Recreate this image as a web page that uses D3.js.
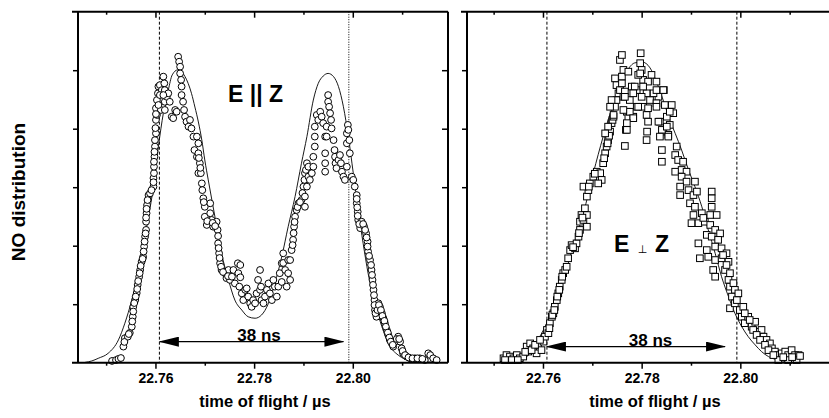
<!DOCTYPE html>
<html>
<head>
<meta charset="utf-8">
<script src="https://cdnjs.cloudflare.com/ajax/libs/d3/7.8.5/d3.min.js"></script>
<style>
  body { margin: 0; background: #fff; }
  svg { display: block; font-family: "Liberation Sans", Arial, sans-serif; }
  .tick text { font-size: 14px; font-weight: bold; fill: #000; }
</style>
</head>
<body>
<div id="chart"></div>
<script>
// time of flight (µs) vs NO signal (arb. units)
const leftPoints = [
  [22.7512,0.006],[22.7520,0.009],[22.7525,0.013],[22.7530,0.016],[22.7535,0.055],[22.7538,0.084],[22.7544,0.089],[22.7548,0.102],
  [22.7552,0.123],[22.7554,0.157],[22.7555,0.191],[22.7559,0.214],[22.7562,0.238],[22.7564,0.266],[22.7567,0.294],[22.7569,0.317],
  [22.7572,0.345],[22.7575,0.362],[22.7577,0.397],[22.7579,0.431],[22.7581,0.454],[22.7581,0.482],[22.7582,0.511],[22.7583,0.539],
  [22.7586,0.573],[22.7589,0.579],[22.7596,0.602],[22.7596,0.631],[22.7597,0.648],[22.7597,0.670],[22.7598,0.704],[22.7599,0.739],
  [22.7599,0.761],[22.7601,0.784],[22.7601,0.830],[22.7601,0.870],[22.7603,0.898],[22.7605,0.921],[22.7606,0.944],[22.7609,0.949],
  [22.7613,0.932],[22.7616,0.978],[22.7618,0.955],[22.7619,0.932],[22.7614,0.881],[22.7611,0.864],[22.7619,0.892],[22.7623,0.909],
  [22.7626,0.921],[22.7629,0.892],[22.7633,0.841],[22.7636,0.836],[22.7640,0.864],[22.7643,0.858],[22.7603,0.847],[22.7606,0.881],
  [22.7609,0.915],[22.7616,0.915],[22.7619,0.864],
  [22.7537,0.071],[22.7546,0.098],[22.7553,0.141],[22.7555,0.175],[22.7557,0.204],[22.7560,0.226],[22.7563,0.252],[22.7565,0.279],
  [22.7568,0.306],[22.7570,0.331],[22.7574,0.355],[22.7576,0.380],[22.7578,0.414],[22.7580,0.442],[22.7581,0.496],[22.7582,0.526],
  [22.7584,0.556],[22.7592,0.590],[22.7596,0.617],[22.7597,0.687],[22.7598,0.721],[22.7600,0.802],[22.7601,0.850],
  [22.7646,1.046],[22.7648,1.029],[22.7650,1.012],[22.7650,0.989],[22.7652,0.967],[22.7653,0.944],[22.7653,0.915],[22.7656,0.892],
  [22.7658,0.864],[22.7660,0.841],[22.7663,0.824],[22.7667,0.807],[22.7670,0.830],[22.7673,0.801],[22.7677,0.773],[22.7679,0.727],
  [22.7684,0.704],[22.7687,0.648],
  [22.7684,0.773],[22.7687,0.750],[22.7687,0.716],[22.7690,0.682],[22.7692,0.648],[22.7694,0.613],[22.7697,0.562],[22.7700,0.533],
  [22.7700,0.499],[22.7704,0.471],[22.7711,0.511],[22.7711,0.545],[22.7714,0.488],[22.7717,0.465],[22.7724,0.482],[22.7726,0.454],
  [22.7727,0.408],[22.7729,0.374],[22.7731,0.340],[22.7734,0.317],[22.7741,0.306],[22.7744,0.289],[22.7748,0.317],[22.7751,0.283],
  [22.7688,0.700],[22.7691,0.666],[22.7695,0.590],[22.7698,0.549],[22.7705,0.484],[22.7716,0.478],[22.7721,0.467],[22.7727,0.433],
  [22.7728,0.392],[22.7730,0.358],[22.7733,0.328],[22.7737,0.310],[22.7747,0.296],
  [22.7755,0.294],[22.7758,0.317],[22.7761,0.271],[22.7767,0.340],[22.7768,0.306],[22.7770,0.260],[22.7772,0.334],[22.7772,0.292],
  [22.7775,0.237],[22.7778,0.214],[22.7782,0.249],[22.7785,0.254],[22.7788,0.226],[22.7792,0.203],[22.7795,0.191],[22.7798,0.214],
  [22.7802,0.203],[22.7805,0.237],[22.7808,0.283],[22.7812,0.317],[22.7812,0.249],[22.7814,0.260],[22.7815,0.214],[22.7819,0.203],
  [22.7822,0.226],[22.7826,0.249],[22.7829,0.271],[22.7832,0.237],[22.7836,0.214],[22.7839,0.283],[22.7842,0.260],[22.7846,0.226],
  [22.7849,0.260],[22.7852,0.306],[22.7856,0.340],[22.7856,0.276],[22.7859,0.374],[22.7859,0.341],[22.7863,0.317],[22.7866,0.260],
  [22.7869,0.306],[22.7869,0.351],[22.7873,0.351],[22.7873,0.283],[22.7876,0.385],[22.7879,0.420],[22.7881,0.465],[22.7883,0.499],
  [22.7886,0.522],[22.7890,0.545],[22.7896,0.556],[22.7900,0.602],[22.7903,0.648],[22.7907,0.682],
  [22.7878,0.402],[22.7880,0.443],[22.7882,0.481],[22.7888,0.532],[22.7893,0.549],[22.7898,0.580],[22.7902,0.625],[22.7905,0.659],
  [22.7903,0.533],[22.7903,0.568],[22.7907,0.602],[22.7910,0.636],[22.7910,0.670],[22.7913,0.625],[22.7917,0.648],[22.7920,0.670],
  [22.7920,0.704],[22.7923,0.739],[22.7923,0.773],[22.7923,0.807],[22.7927,0.847],[22.7930,0.830],[22.7934,0.858],[22.7937,0.841],
  [22.7940,0.819],[22.7944,0.773],[22.7944,0.716],[22.7944,0.682],[22.7944,0.653],[22.7947,0.773],[22.7947,0.807],[22.7950,0.915],
  [22.7950,0.892],[22.7952,0.875],[22.7954,0.853],[22.7956,0.830],[22.7957,0.801],[22.7961,0.761],[22.7963,0.727],[22.7964,0.704],
  [22.7965,0.682],[22.7967,0.665],[22.7971,0.693],[22.7974,0.710],[22.7976,0.682],[22.7978,0.653],[22.7981,0.636],[22.7984,0.625],
  [22.7988,0.670],[22.7988,0.750],[22.7988,0.784],[22.7990,0.813],[22.7991,0.796],[22.7993,0.761],[22.7994,0.716],[22.7998,0.636],
  [22.8001,0.625],[22.8004,0.602],[22.8008,0.573],[22.8008,0.545],[22.8010,0.516],[22.8011,0.488],[22.8015,0.460],[22.8018,0.482],
  [22.8023,0.465],[22.8027,0.442],[22.8030,0.414],[22.8031,0.380],[22.8035,0.351],[22.8038,0.317],[22.8040,0.283],[22.8042,0.249],
  [22.8044,0.214],[22.8045,0.180],[22.8048,0.157],[22.8052,0.203],[22.8055,0.191],[22.8059,0.169],[22.8062,0.152],[22.8065,0.135],
  [22.8069,0.112],[22.8072,0.095],[22.8075,0.078],[22.8079,0.066],[22.8082,0.055],[22.8086,0.072],[22.8092,0.089],[22.8096,0.072],
  [22.8099,0.049],[22.8102,0.032],[22.8109,0.021],[22.8116,0.015],[22.8126,0.015],[22.8136,0.015],[22.8146,0.009],[22.8153,0.032],
  [22.8157,0.026],[22.8163,0.015],[22.8170,0.009],
  [22.8008,0.560],[22.8009,0.531],[22.8010,0.502],[22.8013,0.474],[22.8021,0.474],[22.8025,0.454],[22.8028,0.428],[22.8030,0.397],
  [22.8033,0.365],[22.8037,0.334],[22.8039,0.300],[22.8041,0.266],[22.8043,0.231],[22.8044,0.197],[22.8046,0.169],[22.8050,0.180],
  [22.8053,0.197],[22.8057,0.180],[22.8060,0.160],[22.8064,0.143],[22.8067,0.123],[22.8071,0.103],[22.8074,0.086],[22.8077,0.072],
  [22.8081,0.061],[22.8089,0.081],[22.8094,0.081],[22.8101,0.040],[22.8106,0.026],[22.8113,0.018],[22.8121,0.015],[22.8131,0.015],
  [22.8141,0.013]
];

const leftFit = [
  [22.7457,0.001],[22.7471,0.006],[22.7484,0.015],[22.7504,0.032],[22.7525,0.078],[22.7538,0.135],[22.7552,0.214],[22.7565,0.306],
  [22.7575,0.397],[22.7586,0.499],[22.7596,0.602],[22.7606,0.739],[22.7616,0.853],[22.7626,0.932],[22.7634,0.984],[22.7645,1.001],
  [22.7660,0.978],[22.7673,0.921],[22.7680,0.874],[22.7687,0.823],[22.7694,0.761],[22.7700,0.693],[22.7707,0.625],[22.7721,0.495],
  [22.7734,0.374],[22.7748,0.283],[22.7761,0.214],[22.7775,0.180],[22.7788,0.157],[22.7802,0.152],[22.7815,0.163],[22.7829,0.203],
  [22.7842,0.271],[22.7856,0.362],[22.7869,0.465],[22.7883,0.568],[22.7896,0.682],[22.7907,0.773],[22.7920,0.898],[22.7930,0.955],
  [22.7940,0.980],[22.7950,0.989],[22.7961,0.978],[22.7971,0.944],[22.7981,0.875],[22.7991,0.773],[22.8001,0.648],[22.8011,0.522],
  [22.8021,0.408],[22.8031,0.306],[22.8045,0.203],[22.8059,0.123],[22.8072,0.066],[22.8092,0.026],[22.8119,0.007],[22.8160,0.002]
];

const rightPoints = [
  [22.7520,0.015],[22.7526,0.026],[22.7533,0.021],[22.7540,0.015],[22.7547,0.026],[22.7553,0.015],[22.7560,0.021],[22.7567,0.055],
  [22.7570,0.038],[22.7574,0.066],[22.7580,0.049],[22.7587,0.032],[22.7590,0.061],[22.7597,0.043],[22.7601,0.072],[22.7604,0.089],
  [22.7523,0.009],[22.7537,0.009],[22.7549,0.009],[22.7564,0.037],[22.7577,0.043],[22.7584,0.061],[22.7594,0.078],
  [22.7608,0.112],[22.7611,0.101],[22.7614,0.135],[22.7618,0.157],[22.7621,0.169],[22.7624,0.191],[22.7628,0.214],[22.7631,0.237],
  [22.7634,0.260],[22.7638,0.283],[22.7641,0.306],[22.7645,0.317],[22.7648,0.328],[22.7655,0.385],[22.7658,0.402],[22.7665,0.391],
  [22.7668,0.408],[22.7672,0.431],[22.7675,0.454],[22.7675,0.482],[22.7678,0.505],[22.7682,0.488],[22.7689,0.505],[22.7689,0.465],
  [22.7685,0.528],[22.7689,0.568],[22.7692,0.590],[22.7682,0.602],[22.7695,0.613],[22.7702,0.636],[22.7709,0.653],[22.7716,0.648],
  [22.7719,0.625],[22.7712,0.613],[22.7722,0.682],[22.7726,0.716],[22.7729,0.739],[22.7732,0.761],[22.7736,0.790],[22.7739,0.819],
  [22.7613,0.118],[22.7619,0.163],[22.7623,0.180],[22.7629,0.226],[22.7633,0.249],[22.7639,0.294],[22.7651,0.357],[22.7661,0.395],
  [22.7673,0.443],[22.7680,0.496],[22.7693,0.602],[22.7705,0.646],[22.7724,0.699],[22.7731,0.750],[22.7734,0.776],[22.7741,0.830],
  [22.7743,0.841],[22.7746,0.875],[22.7749,0.898],[22.7753,0.921],[22.7756,0.944],[22.7760,0.978],[22.7763,1.001],[22.7756,1.035],
  [22.7760,1.052],[22.7798,1.058],[22.7797,1.024],[22.7800,1.001],[22.7773,0.995],[22.7746,0.972],[22.7749,0.949],[22.7756,0.932],
  [22.7766,0.927],[22.7780,0.944],[22.7790,0.932],[22.7803,0.967],[22.7820,0.984],[22.7830,0.961],[22.7845,0.932],[22.7834,0.909],
  [22.7817,0.898],[22.7803,0.875],[22.7790,0.875],[22.7776,0.898],[22.7763,0.909],[22.7739,0.898],[22.7736,0.875],[22.7743,0.847],
  [22.7732,0.807],[22.7726,0.784],[22.7770,0.858],[22.7773,0.836],[22.7768,0.796],[22.7783,0.841],[22.7810,0.847],[22.7811,0.790],
  [22.7837,0.824],[22.7847,0.881],[22.7861,0.881],[22.7864,0.853],[22.7851,0.841],[22.7857,0.813],[22.7844,0.790],[22.7854,0.779],
  [22.7830,0.887],[22.7824,0.921],[22.7810,0.921],[22.7793,0.984],
  [22.7797,0.989],[22.7813,0.961],[22.7803,0.944],[22.7786,0.944],[22.7760,0.955],[22.7766,0.909],[22.7783,0.921],[22.7800,0.909],
  [22.7830,0.932],[22.7844,0.932],[22.7857,0.858],[22.7830,0.875],[22.7813,0.870],[22.7793,0.875],[22.7776,0.858],[22.7763,0.864],
  [22.7783,0.836],[22.7770,0.819],[22.7770,0.796],[22.7766,0.741],[22.7813,0.824],[22.7810,0.761],[22.7834,0.824],[22.7841,0.796],
  [22.7851,0.807],[22.7854,0.773],[22.7837,0.773],[22.7841,0.727],[22.7841,0.687],[22.7871,0.739],[22.7868,0.710],[22.7874,0.693],
  [22.7884,0.687],[22.7868,0.653],[22.7881,0.659],[22.7891,0.653],[22.7881,0.636],[22.7891,0.619],[22.7908,0.619],[22.7878,0.602],
  [22.7895,0.590],[22.7878,0.573],[22.7905,0.573],[22.7912,0.585],[22.7898,0.545],[22.7908,0.533],[22.7905,0.505],[22.7922,0.511],
  [22.7915,0.477],[22.7901,0.477],[22.7928,0.482],[22.7942,0.585],[22.7942,0.562],[22.7942,0.533],[22.7939,0.505],[22.7952,0.505],
  [22.7939,0.471],[22.7949,0.454],[22.7932,0.437],[22.7942,0.431],[22.7959,0.442],[22.7955,0.420],[22.7915,0.408],[22.7932,0.385],
  [22.7949,0.397],[22.7962,0.391],[22.7972,0.374],[22.7918,0.357],[22.7935,0.362],[22.7949,0.351],[22.7962,0.357],[22.7976,0.345],
  [22.7945,0.317],[22.7949,0.294],[22.7969,0.317],[22.7979,0.306],[22.7976,0.283],[22.7979,0.260],[22.7989,0.249],[22.7983,0.226],
  [22.7996,0.237],[22.7979,0.186],[22.7989,0.203],[22.7999,0.180],[22.8006,0.191],[22.8003,0.157],[22.8009,0.135],[22.8016,0.157],
  [22.8023,0.123],[22.8030,0.140],[22.8036,0.106],[22.8043,0.112],[22.8047,0.089],[22.8053,0.078],[22.8060,0.066],[22.8064,0.049],
  [22.8070,0.038],[22.8077,0.026],[22.8084,0.032],[22.8091,0.038],[22.8097,0.026],[22.8104,0.043],[22.8111,0.026],[22.8118,0.026],
  [22.8077,0.009],[22.8097,0.009],[22.8114,0.009],[22.8121,0.023],
  [22.7925,0.495],[22.7965,0.368],[22.7972,0.334],[22.7986,0.272],[22.7993,0.214],[22.8009,0.169],[22.8019,0.146],[22.8026,0.112],
  [22.8033,0.095],[22.8040,0.078],[22.8050,0.061],[22.8057,0.043],[22.8067,0.026],[22.8087,0.019],[22.8105,0.019]
];

const rightFit = [
  [22.7533,0.001],[22.7560,0.009],[22.7580,0.055],[22.7601,0.112],[22.7621,0.191],[22.7641,0.283],[22.7661,0.397],[22.7682,0.511],
  [22.7702,0.648],[22.7722,0.773],[22.7743,0.887],[22.7756,0.949],[22.7770,0.997],[22.7786,1.025],[22.7801,1.028],[22.7817,1.008],
  [22.7831,0.956],[22.7845,0.891],[22.7857,0.830],[22.7868,0.784],[22.7881,0.727],[22.7895,0.659],[22.7908,0.602],[22.7922,0.533],
  [22.7935,0.454],[22.7949,0.374],[22.7962,0.294],[22.7976,0.226],[22.7989,0.169],[22.8003,0.123],[22.8016,0.089],[22.8030,0.061],
  [22.8043,0.038],[22.8057,0.021],[22.8077,0.009],[22.8097,0.003]
];

const majorTicks = [22.76, 22.78, 22.80];
const minorTicks = [22.75, 22.77, 22.79, 22.81];
const yTicks = [0.2, 0.4, 0.6, 0.8, 1.0];
const leftGuides = [22.7608, 22.7992];
const rightGuides = [22.7608, 22.7993];
const leftArrow = [22.7609, 22.7981];
const rightArrow = [22.7608, 22.7969];
const arrowLevels = [0.072, 0.055];
const nsLabelTimes = [22.7810, 22.7818];

const width = 829;
const height = 418;
const plotTop = 11.7;
const plotBottom = 362.7;

const svg = d3.select('#chart')
  .append('svg')
  .attr('width', width)
  .attr('height', height);

svg.append('defs').append('marker')
  .attr('id', 'head')
  .attr('markerUnits', 'userSpaceOnUse')
  .attr('markerWidth', 20)
  .attr('markerHeight', 10)
  .attr('refX', 19)
  .attr('refY', 5)
  .attr('orient', 'auto-start-reverse')
  .append('path')
  .attr('d', 'M0,0L20,5L0,10Z')
  .attr('fill', '#000');

const y = d3.scaleLinear().domain([0, 1.2]).range([plotBottom, plotTop]);

const panels = [
  { x0: 78, x1: 448, domain: [22.7443, 22.8193], points: leftPoints, fit: leftFit, symbol: 'circle',
    guides: leftGuides, dash: ['3,2', '1,1.5'], arrow: leftArrow, level: arrowLevels[0], nsAt: nsLabelTimes[0],
    closed: true, titleX: 265 },
  { x0: 467, x1: 839, domain: [22.7446, 22.8200], points: rightPoints, fit: rightFit, symbol: 'square',
    guides: rightGuides, dash: ['3,2', '3,2'], arrow: rightArrow, level: arrowLevels[1], nsAt: nsLabelTimes[1],
    closed: false, titleX: 655 }
];

panels.forEach(p => {
  const x = d3.scaleLinear().domain(p.domain).range([p.x0, p.x1]);
  const g = svg.append('g');

  // dashed guide lines at the 38 ns window
  g.selectAll('.guide')
    .data(p.guides)
    .enter()
    .append('line')
    .attr('x1', d => x(d)).attr('x2', d => x(d))
    .attr('y1', plotTop).attr('y2', plotBottom)
    .attr('stroke', '#000')
    .attr('stroke-width', 1)
    .attr('stroke-dasharray', (d, i) => p.dash[i]);

  // fit curve
  const line = d3.line()
    .x(d => x(d[0]))
    .y(d => y(d[1]))
    .curve(d3.curveMonotoneX);

  g.append('path')
    .datum(p.fit)
    .attr('d', line)
    .attr('fill', 'none')
    .attr('stroke', '#000')
    .attr('stroke-width', 0.9);

  // measured points
  if (p.symbol === 'circle') {
    g.selectAll('.pt')
      .data(p.points)
      .enter()
      .append('circle')
      .attr('cx', d => x(d[0]))
      .attr('cy', d => y(d[1]))
      .attr('r', 3.4)
      .attr('fill', '#fff')
      .attr('stroke', '#000')
      .attr('stroke-width', 1);
  } else {
    g.selectAll('.pt')
      .data(p.points)
      .enter()
      .append('rect')
      .attr('x', d => x(d[0]) - 3.3)
      .attr('y', d => y(d[1]) - 3.3)
      .attr('width', 6.6)
      .attr('height', 6.6)
      .attr('fill', '#fff')
      .attr('stroke', '#000')
      .attr('stroke-width', 1);
  }

  // 38 ns arrow
  g.append('line')
    .attr('x1', x(p.arrow[0])).attr('x2', x(p.arrow[1]))
    .attr('y1', y(p.level)).attr('y2', y(p.level))
    .attr('stroke', '#000')
    .attr('stroke-width', 1.2)
    .attr('marker-start', 'url(#head)')
    .attr('marker-end', 'url(#head)');

  g.append('text')
    .attr('x', x(p.nsAt))
    .attr('y', y(p.level) - 1)
    .attr('text-anchor', 'middle')
    .style('font-size', '17px')
    .style('font-weight', 'bold')
    .text('38 ns');

  // axes
  const bottomMajor = g.append('g')
    .attr('transform', `translate(0,${plotBottom})`)
    .call(d3.axisBottom(x).tickValues(majorTicks).tickSize(6).tickSizeOuter(0).tickPadding(4)
      .tickFormat(d3.format('.2f')));
  const bottomMinor = g.append('g')
    .attr('transform', `translate(0,${plotBottom})`)
    .call(d3.axisBottom(x).tickValues(minorTicks).tickSize(3).tickSizeOuter(0).tickFormat(''));
  const topMajor = g.append('g')
    .attr('transform', `translate(0,${plotTop})`)
    .call(d3.axisBottom(x).tickValues(majorTicks).tickSize(6).tickSizeOuter(0).tickFormat(''));
  const topMinor = g.append('g')
    .attr('transform', `translate(0,${plotTop})`)
    .call(d3.axisBottom(x).tickValues(minorTicks).tickSize(3).tickSizeOuter(0).tickFormat(''));
  const leftAxis = g.append('g')
    .attr('transform', `translate(${p.x0},0)`)
    .call(d3.axisLeft(y).tickValues(yTicks).tickSize(5).tickSizeOuter(0).tickFormat(''));
  const axes = [bottomMajor, bottomMinor, topMajor, topMinor, leftAxis];
  if (p.closed) {
    axes.push(g.append('g')
      .attr('transform', `translate(${p.x1},0)`)
      .call(d3.axisLeft(y).tickValues(yTicks).tickSize(6).tickSizeOuter(0).tickFormat('')));
  }
  axes.forEach(a => {
    a.select('.domain').remove();
    a.selectAll('.tick line').attr('stroke', '#000').attr('stroke-width', 1.5);
  });

  // frame
  const frame = [
    [p.x0 - 6, plotBottom, p.x1, plotBottom],
    [p.x0 - 6, plotTop, p.x1, plotTop],
    [p.x0, plotTop, p.x0, plotBottom]
  ];
  if (p.closed) frame.push([p.x1, plotTop, p.x1, plotBottom]);
  g.selectAll('.frame')
    .data(frame)
    .enter()
    .append('line')
    .attr('x1', d => d[0]).attr('y1', d => d[1])
    .attr('x2', d => d[2]).attr('y2', d => d[3])
    .attr('stroke', '#000')
    .attr('stroke-width', 2);

  g.append('text')
    .attr('x', p.titleX)
    .attr('y', 407)
    .attr('text-anchor', 'middle')
    .style('font-size', '16.5px')
    .style('font-weight', 'bold')
    .text('time of flight / µs');
});

// polarisation labels
svg.append('text')
  .attr('x', 228)
  .attr('y', 101.7)
  .style('font-size', '23px')
  .style('font-weight', 'bold')
  .text('E || Z');

const perp = svg.append('g').style('font-size', '23px').style('font-weight', 'bold');
perp.append('text').attr('x', 614).attr('y', 252).text('E');
perp.append('text').attr('x', 642.5).attr('y', 253).attr('text-anchor', 'middle')
  .style('font-size', '11px').style('font-weight', 'normal').style('fill', '#000')
  .style('font-family', '"DejaVu Sans", sans-serif').text('⊥');
perp.append('text').attr('x', 655).attr('y', 252).text('Z');

svg.append('text')
  .attr('transform', 'translate(25,192) rotate(-90)')
  .attr('text-anchor', 'middle')
  .style('font-size', '19px')
  .style('font-weight', 'bold')
  .text('NO distribution');
</script>
</body>
</html>
